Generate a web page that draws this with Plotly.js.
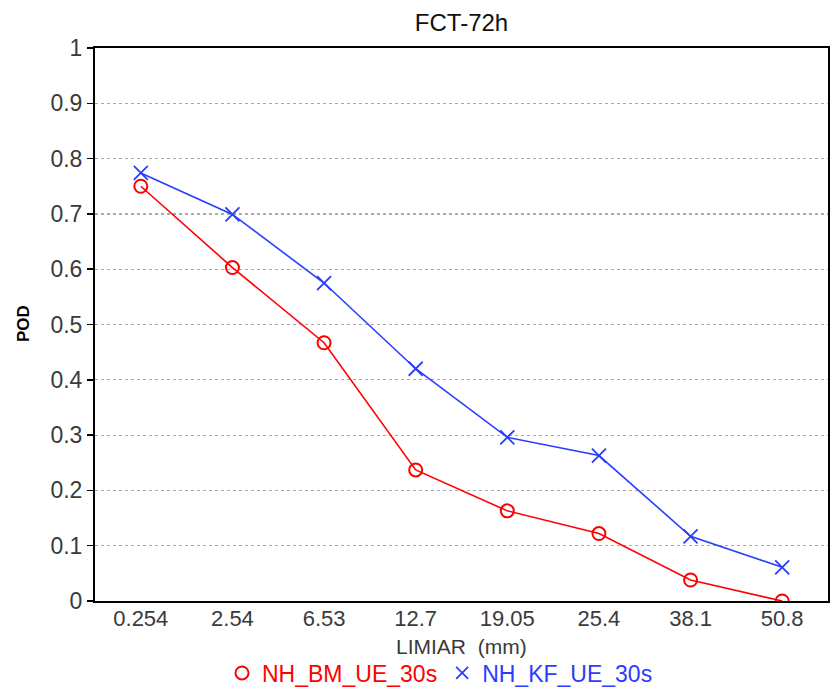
<!DOCTYPE html>
<html>
<head>
<meta charset="utf-8">
<script src="https://cdn.plot.ly/plotly-3.0.1.min.js"></script>
<style>html,body{margin:0;padding:0;background:#fff;}</style>
</head>
<body>
<div id="chart" style="width:834px;height:687px;"></div>
<script>
const thresholds = ["0.254", "2.54", "6.53", "12.7", "19.05", "25.4", "38.1", "50.8"];
const podBM = [0.750, 0.603, 0.467, 0.237, 0.163, 0.122, 0.038, 0.000];
const podKF = [0.774, 0.699, 0.575, 0.420, 0.296, 0.263, 0.117, 0.061];
const nameBM = "NH_BM_UE_30s";
const nameKF = "NH_KF_UE_30s";
const yTicks = [0, 0.1, 0.2, 0.3, 0.4, 0.5, 0.6, 0.7, 0.8, 0.9, 1];

const red = "#ff0000";
const blue = "#2a3cff";
const FONT = "Liberation Sans, Arial, sans-serif";
const TXT = "#3a3a3a";

const traces = [
  {x: thresholds, y: podBM, type: "scatter", mode: "lines+markers", name: nameBM, showlegend: false,
   line: {color: red, width: 1.6},
   marker: {symbol: "circle-open", size: 13, color: red, line: {width: 2, color: red}}},
  {x: thresholds, y: podKF, type: "scatter", mode: "lines+markers", name: nameKF, showlegend: false,
   line: {color: blue, width: 1.6},
   marker: {symbol: "x-thin-open", size: 14, color: blue, line: {width: 1.8, color: blue}}},
  {x: [null], y: [null], type: "scatter", mode: "markers", name: '<span style="color:' + red + '">' + nameBM + '</span>',
   marker: {symbol: "circle-open", size: 13, color: red, line: {width: 2, color: red}}},
  {x: [null], y: [null], type: "scatter", mode: "markers", name: '<span style="color:' + blue + '">' + nameKF + '</span>',
   marker: {symbol: "x-thin-open", size: 12, color: blue, line: {width: 1.8, color: blue}}}
];

const layout = {
  width: 834, height: 687,
  margin: {l: 95, r: 6, t: 48, b: 86},
  paper_bgcolor: "#fff", plot_bgcolor: "#fff",
  font: {family: FONT, color: TXT, size: 22},
  title: {text: "FCT-72h", x: 0.5, xref: "paper", y: 1 - 23/687, yref: "container", yanchor: "middle",
          font: {family: "Liberation Sans Narrow, Arial Narrow, sans-serif", size: 24, color: "#111"}},
  xaxis: {type: "category", categoryorder: "array", categoryarray: thresholds,
          range: [-0.5, 7.5], showgrid: false, zeroline: false, ticks: "", ticklabelstandoff: -3,
          showline: true, linecolor: "#000", linewidth: 2, mirror: true,
          tickfont: {family: FONT, size: 22, color: TXT}},
  yaxis: {range: [0, 1], tickvals: yTicks, ticks: "outside", ticklen: 6, tickcolor: "#000", tickwidth: 1.5,
          showgrid: true, gridcolor: "#aaa", griddash: "dot", gridwidth: 1.2, zeroline: false,
          showline: true, linecolor: "#000", linewidth: 2, mirror: true,
          tickfont: {family: FONT, size: 23, color: TXT}},
  annotations: [
    {text: "LIMIAR  (mm)", xref: "paper", x: 0.5, yref: "paper", y: -(646 - 601) / 553, yanchor: "middle",
     showarrow: false, font: {family: FONT, size: 21, color: TXT}},
    {text: "<b>POD</b>", xref: "paper", x: -(95 - 23) / 733, xanchor: "center", yref: "paper", y: (601 - 324) / 553, yanchor: "middle",
     textangle: -90, showarrow: false, font: {family: FONT, size: 17, color: "#000"}}
  ],
  legend: {orientation: "h", x: 440/834, xanchor: "center", xref: "container", y: 1 - 673/687, yref: "container", yanchor: "middle",
           font: {family: FONT, size: 23}, itemwidth: 30, tracegroupgap: 0, bgcolor: "rgba(0,0,0,0)"},
  showlegend: true
};

Plotly.newPlot("chart", traces, layout, {displayModeBar: false, staticPlot: true});
</script>
</body>
</html>
